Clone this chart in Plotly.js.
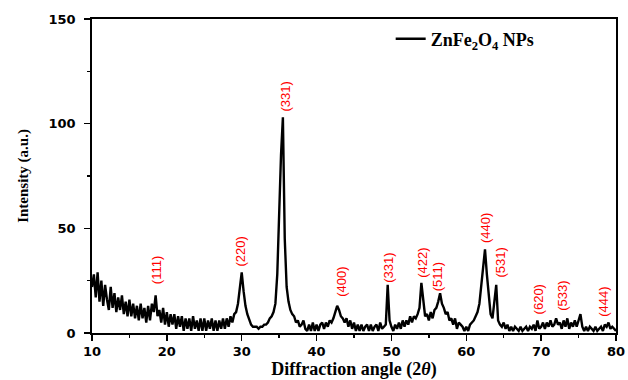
<!DOCTYPE html>
<html>
<head>
<meta charset="utf-8">
<script src="https://cdn.plot.ly/plotly-3.0.1.min.js"></script>
<style>html,body{margin:0;padding:0;background:#fff}#chart{width:628px;height:380px}</style>
</head>
<body>
<div id="chart"></div>
<script>
// 2θ grid start / step (degrees)
var angleStart = 10;
var angleStep = 0.25;
var intensity = [
  22, 28, 17, 29,   // 10
  15, 25, 13, 23,   // 11
  16, 11, 22, 12,   // 12
  19, 10, 17, 11,   // 13
  18, 9, 15, 8,     // 14
  16, 8, 14, 7,     // 15
  13, 6, 14, 7,     // 16
  12, 5, 13, 6,     // 17
  14, 10, 18, 8,    // 18
  11, 5, 12, 4,     // 19
  10, 3, 9, 4,      // 20
  9, 2, 8, 3,       // 21
  8, 1, 7, 2,       // 22
  7, 1, 8, 2,       // 23
  6, 1, 7, 1,       // 24
  7, 1, 6, 2,       // 25
  7, 1, 6, 1,       // 26
  6, 2, 7, 2,       // 27
  7, 3, 8, 5,       // 28
  9, 10, 14, 22,    // 29
  29, 20, 13, 9,    // 30
  6, 4, 3, 3,       // 31
  3, 2, 3, 3,       // 32
  4, 4, 5, 7,       // 33
  8, 10, 14, 28,    // 34
  58, 85, 103, 45,  // 35
  22, 15, 11, 9,    // 36
  8, 5, 6, 3,       // 37
  4, 6, 2, 1,       // 38
  4, 1, 5, 1,       // 39
  4, 1, 4, 5,       // 40
  2, 5, 3, 6,       // 41
  5, 7, 10, 13,     // 42
  11, 8, 7, 5,      // 43
  7, 3, 6, 2,       // 44
  5, 1, 4, 1,       // 45
  4, 1, 3, 4,       // 46
  1, 4, 1, 3,       // 47
  4, 1, 5, 2,       // 48
  3, 4, 23, 6,      // 49
  3, 1, 4, 2,       // 50
  5, 2, 6, 3,       // 51
  6, 4, 8, 5,       // 52
  8, 7, 9, 12,      // 53
  24, 14, 8, 9,     // 54
  6, 10, 7, 11,     // 55
  12, 15, 19, 14,   // 56
  12, 9, 10, 6,     // 57
  7, 4, 7, 2,       // 58
  5, 4, 3, 1,       // 59
  3, 1, 4, 5,       // 60
  6, 8, 10, 14,     // 61
  22, 32, 40, 28,   // 62
  18, 9, 7, 14,     // 63
  23, 6, 4, 3,      // 64
  5, 2, 4, 1,       // 65
  3, 1, 3, 2,       // 66
  1, 3, 1, 2,       // 67
  3, 1, 3, 2,       // 68
  4, 1, 6, 2,       // 69
  3, 5, 2, 5,       // 70
  3, 6, 3, 4,       // 71
  7, 4, 5, 2,       // 72
  6, 3, 7, 2,       // 73
  5, 3, 6, 3,       // 74
  6, 9, 3, 1,       // 75
  3, 1, 3, 2,       // 76
  1, 3, 1, 2,       // 77
  3, 1, 4, 3,       // 78
  5, 2, 3, 2,       // 79
  1                 // 80
];
// Miller index labels and where they sit (2θ, intensity)
var peakLabels = ["(111)", "(220)", "(331)", "(400)", "(331)", "(422)", "(511)", "(440)", "(531)", "(620)", "(533)", "(444)"];
var labelAngle = [18.55, 29.8, 35.8, 43.4, 49.5, 54.2, 56.2, 62.6, 64.6, 69.7, 72.9, 78.3];
var labelIntensity = [30, 39, 113, 24.5, 31, 33.5, 27, 50, 33.5, 16, 17.7, 15];
var xTicks = [10, 20, 30, 40, 50, 60, 70, 80];
var yTicks = [0, 50, 100, 150];

var angles = intensity.map(function (_, i) { return angleStart + i * angleStep; });

var trace = {
  x: angles,
  y: intensity,
  type: "scatter",
  mode: "lines",
  name: "<b>ZnFe<sub>2</sub>O<sub>4</sub> NPs</b>",
  line: { color: "#000", width: 2.4 }
};

var annotations = peakLabels.map(function (t, i) {
  return {
    x: labelAngle[i], y: labelIntensity[i], xref: "x", yref: "y",
    text: t, showarrow: false, textangle: -90,
    font: { family: "Liberation Sans, Arial, sans-serif", size: 13, color: "#ff0000" }
  };
});

var layout = {
  width: 628, height: 380,
  margin: { l: 92, r: 12, t: 19, b: 47 },
  paper_bgcolor: "#fff", plot_bgcolor: "#fff",
  showlegend: true,
  legend: {
    x: 0.57, y: 0.936, xanchor: "left", yanchor: "middle",
    bgcolor: "rgba(0,0,0,0)",
    font: { family: "Liberation Serif, Times New Roman, serif", size: 18, color: "#000" }
  },
  xaxis: {
    range: [10, 80], tickvals: xTicks, ticktext: xTicks.map(String),
    ticks: "outside", ticklen: 6, tickwidth: 1.5, tickcolor: "#000",
    minor: { dtick: 5, tick0: 10, ticks: "outside", ticklen: 3, tickcolor: "#000", showgrid: false },
    showline: true, linecolor: "#000", linewidth: 1.8, mirror: true,
    showgrid: false, zeroline: false,
    tickfont: { family: "DejaVu Sans, sans-serif", size: 13, color: "#000", weight: "bold" },
    title: { text: "<b>Diffraction angle (2<i>θ</i>)</b>", standoff: 2,
      font: { family: "Liberation Serif, Times New Roman, serif", size: 18, color: "#000" } }
  },
  yaxis: {
    range: [0, 150], tickvals: yTicks, ticktext: yTicks.map(String),
    ticks: "outside", ticklen: 6, tickwidth: 1.5, tickcolor: "#000",
    ticklabelstandoff: 6,
    minor: { dtick: 25, tick0: 0, ticks: "outside", ticklen: 3, tickcolor: "#000", showgrid: false },
    showline: true, linecolor: "#000", linewidth: 1.8, mirror: true,
    showgrid: false, zeroline: false,
    tickfont: { family: "DejaVu Sans, sans-serif", size: 13, color: "#000", weight: "bold" },
    title: { text: "<b>Intensity (a.u.)</b>", standoff: 16,
      font: { family: "Liberation Serif, Times New Roman, serif", size: 15, color: "#000" } }
  },
  annotations: annotations
};

Plotly.newPlot("chart", [trace], layout, { displayModeBar: false, staticPlot: true });
</script>
</body>
</html>
